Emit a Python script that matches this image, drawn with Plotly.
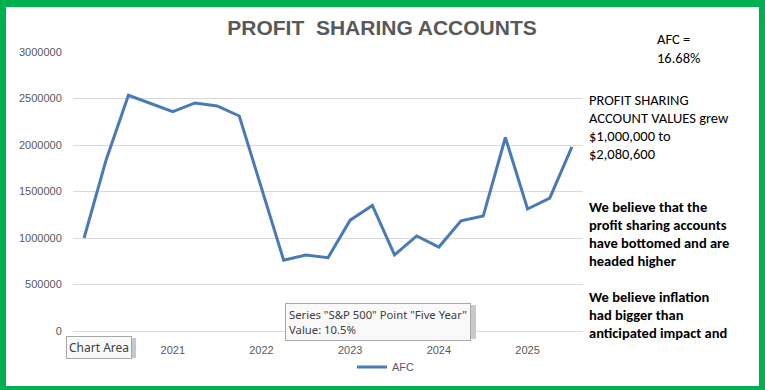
import plotly.graph_objects as go

# ---- data ----
periods = ["2020 Q1", "2020 Q2", "2020 Q3", "2020 Q4",
           "2021 Q1", "2021 Q2", "2021 Q3", "2021 Q4",
           "2022 Q1", "2022 Q2", "2022 Q3", "2022 Q4",
           "2023 Q1", "2023 Q2", "2023 Q3", "2023 Q4",
           "2024 Q1", "2024 Q2", "2024 Q3", "2024 Q4",
           "2025 Q1", "2025 Q2", "2025 Q3"]
afc_values = [1000000, 1845000, 2535000, 2445000,
              2358000, 2452000, 2420000, 2312000,
              1535000, 762000, 817000, 788000,
              1192000, 1350000, 818000, 1022000,
              903000, 1185000, 1236000, 2080600,
              1312000, 1428000, 1980000]
year_tick_index = [4, 8, 12, 16, 20]
year_tick_labels = ["2021", "2022", "2023", "2024", "2025"]
y_ticks = [0, 500000, 1000000, 1500000, 2000000, 2500000, 3000000]

W, H = 765, 390
L, R, T, B = 73, 583, 52, 331  # plot area in pixels


def px(xp):
    return (xp - L) / (R - L)


def py(yp):
    return (B - yp) / (B - T)


x_idx = list(range(len(periods)))

fig = go.Figure()
fig.add_trace(go.Scatter(
    x=x_idx, y=afc_values, mode="lines", name="AFC",
    line=dict(color="#4a7ab5", width=3),
    hovertext=periods,
))

GREEN = "#00b050"
shapes = [
    dict(type="rect", xref="paper", yref="paper", x0=px(0), x1=px(W), y0=py(0), y1=py(7),
         fillcolor=GREEN, line_width=0, layer="above"),
    dict(type="rect", xref="paper", yref="paper", x0=px(0), x1=px(W), y0=py(386), y1=py(H),
         fillcolor=GREEN, line_width=0, layer="above"),
    dict(type="rect", xref="paper", yref="paper", x0=px(0), x1=px(6), y0=py(0), y1=py(H),
         fillcolor=GREEN, line_width=0, layer="above"),
    dict(type="rect", xref="paper", yref="paper", x0=px(759), x1=px(W), y0=py(0), y1=py(H),
         fillcolor=GREEN, line_width=0, layer="above"),
    # tooltip shadows
    dict(type="rect", xref="paper", yref="paper", x0=px(68), x1=px(136), y0=py(338), y1=py(358),
         fillcolor="#c8c8c8", line_width=0, layer="above"),
    dict(type="rect", xref="paper", yref="paper", x0=px(288), x1=px(476), y0=py(305), y1=py(339),
         fillcolor="#c8c8c8", line_width=0, layer="above"),
]

TXT = "Calibri, Carlito, Lato, 'Liberation Sans', sans-serif"
TIP = "'Segoe UI', 'Noto Sans', sans-serif"

side_blocks = [
    (655, 39.5, ["AFC =", "16.68%"], False),
    (587, 99.5, ["PROFIT SHARING", "ACCOUNT VALUES grew", "$1,000,000 to", "$2,080,600"], False),
    (587, 206.8, ["We believe that the", "profit sharing accounts", "have bottomed and are", "headed higher"], True),
    (587, 296.8, ["We believe inflation", "had bigger than", "anticipated impact and"], True),
]
LINE_H = 18.2

annotations = []
for bx, by, lines, bold in side_blocks:
    for i, ln in enumerate(lines):
        annotations.append(dict(
            text=f"<b>{ln}</b>" if bold else ln,
            x=px(bx), y=py(by + i * LINE_H), xref="paper", yref="paper",
            xanchor="left", yanchor="middle", align="left", showarrow=False,
            font=dict(family=TXT, size=14.5, color="#000000")))

annotations += [
    dict(text="Chart Area", x=px(66), y=py(336), xref="paper", yref="paper",
         xanchor="left", yanchor="top", align="left", showarrow=False,
         bgcolor="#f9f9f9", bordercolor="#a8a8a8", borderwidth=1, borderpad=2,
         font=dict(family=TIP, size=12, color="#404040")),
    dict(text='Series "S&P 500" Point "Five Year"<br>Value: 10.5%', x=px(285), y=py(303),
         xref="paper", yref="paper",
         xanchor="left", yanchor="top", align="left", showarrow=False,
         bgcolor="#f9f9f9", bordercolor="#a8a8a8", borderwidth=1, borderpad=3,
         font=dict(family=TIP, size=11.3, color="#404040")),
]

fig.update_layout(
    width=W, height=H,
    margin=dict(l=L, r=W - R, t=T, b=H - B, autoexpand=False),
    paper_bgcolor="white", plot_bgcolor="white",
    title=dict(text="<b>PROFIT  SHARING ACCOUNTS</b>", x=px(382), xref="paper",
               xanchor="center", y=1 - 28 / H, yanchor="middle",
               font=dict(family="Arial, 'Liberation Sans', sans-serif", size=21, color="#595959")),
    xaxis=dict(range=[-0.5, len(periods) - 0.5], tickmode="array",
               tickvals=year_tick_index, ticktext=year_tick_labels,
               showgrid=False, zeroline=False, showline=False, automargin=False,
               ticks="outside", ticklen=9, tickcolor="rgba(0,0,0,0)",
               tickfont=dict(family="Arial, 'Liberation Sans', sans-serif", size=11, color="#595959")),
    yaxis=dict(range=[0, 3000000], tickmode="array", tickvals=y_ticks, tickformat="d",
               showgrid=True, gridcolor="#d9d9d9", gridwidth=1, zeroline=True,
               zerolinecolor="#d9d9d9", zerolinewidth=1, showline=False, automargin=False,
               ticks="outside", ticklen=8, tickcolor="rgba(0,0,0,0)",
               tickfont=dict(family="Arial, 'Liberation Sans', sans-serif", size=11, color="#595959")),
    showlegend=True,
    legend=dict(orientation="h", x=px(386), xanchor="center", y=py(367), yanchor="middle",
                font=dict(family="Arial, 'Liberation Sans', sans-serif", size=11, color="#595959"),
                bgcolor="rgba(0,0,0,0)"),
    shapes=shapes,
    annotations=annotations,
)

fig.write_html("out.html", config={"displayModeBar": False},
               post_script="document.body.style.margin='0';document.body.style.overflow='hidden';")
